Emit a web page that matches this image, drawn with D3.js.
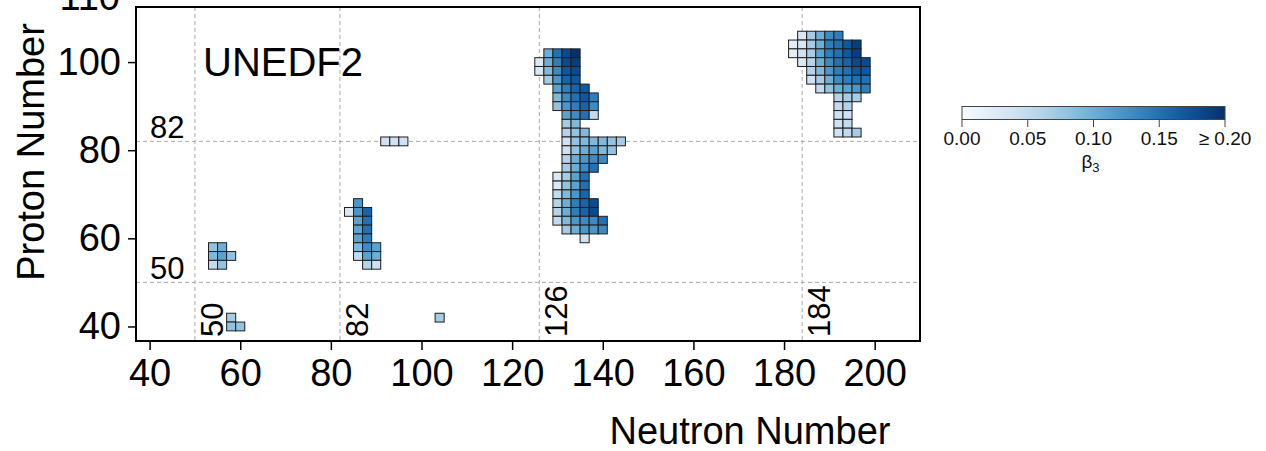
<!DOCTYPE html>
<html>
<head>
<meta charset="utf-8">
<script src="https://cdn.jsdelivr.net/npm/d3@7"></script>
<style>
  body { margin: 0; background: #fff; }
  svg { display: block; font-family: "Liberation Sans", Arial, Helvetica, sans-serif; }
</style>
</head>
<body>
<div id="chart"></div>
<script>
// rows of even-even nuclei: proton number, first neutron number, beta3 values (step of 2 in N)
const rowZ = [58, 56, 54, 42, 40, 42,
  82,
  68, 66, 64, 62, 60, 58, 56, 54,
  102, 100, 98, 96, 94, 92, 90, 88, 86, 84, 82, 80, 78, 76, 74, 72, 70, 68, 66, 64, 62, 60,
  106, 104, 102, 100, 98, 96, 94, 92, 90, 88, 86, 84];
const rowStartN = [54, 54, 54, 58, 58, 104,
  92,
  86, 84, 86, 86, 86, 86, 86, 88,
  128, 126, 126, 128, 130, 130, 130, 132, 132, 132, 132, 132, 132, 132, 130, 130, 130, 130, 130, 130, 132, 136,
  184, 182, 182, 184, 186, 186, 188, 192, 192, 192, 192, 192];
const rowBeta = [
  [0.08, 0.10], [0.09, 0.11, 0.08], [0.05, 0.08], [0.07], [0.08, 0.08], [0.07],
  [0.04, 0.04, 0.04],
  [0.12], [0.03, 0.12, 0.16], [0.11, 0.15], [0.11, 0.15], [0.11, 0.14],
  [0.09, 0.13, 0.11], [0.05, 0.11, 0.10], [0.06, 0.04],
  [0.10, 0.15, 0.18, 0.20],
  [0.03, 0.10, 0.14, 0.18, 0.19],
  [0.03, 0.09, 0.13, 0.17, 0.18],
  [0.07, 0.12, 0.16, 0.17],
  [0.11, 0.14, 0.16, 0.17],
  [0.09, 0.13, 0.15, 0.17, 0.14],
  [0.08, 0.12, 0.14, 0.16, 0.13],
  [0.11, 0.13, 0.15, 0.05],
  [0.07, 0.09],
  [0.06, 0.08, 0.09],
  [0.04, 0.08, 0.09, 0.09, 0.09, 0.08, 0.07],
  [0.04, 0.08, 0.10, 0.11, 0.09, 0.08],
  [0.06, 0.10, 0.12, 0.13, 0.13],
  [0.07, 0.10, 0.13, 0.15],
  [0.03, 0.07, 0.11, 0.15],
  [0.03, 0.08, 0.11, 0.15],
  [0.05, 0.09, 0.12, 0.16],
  [0.06, 0.10, 0.14, 0.16, 0.18],
  [0.06, 0.10, 0.14, 0.16, 0.18],
  [0.05, 0.09, 0.12, 0.13, 0.13, 0.15],
  [0.07, 0.10, 0.12, 0.12, 0.13],
  [0.04],
  [0.03, 0.07, 0.10, 0.13, 0.14],
  [0.02, 0.03, 0.07, 0.10, 0.14, 0.15, 0.17, 0.19],
  [0.02, 0.04, 0.07, 0.11, 0.14, 0.15, 0.17, 0.19],
  [0.03, 0.06, 0.10, 0.13, 0.15, 0.16, 0.18, 0.18],
  [0.06, 0.09, 0.12, 0.14, 0.15, 0.17, 0.17],
  [0.04, 0.07, 0.10, 0.13, 0.14, 0.15, 0.15],
  [0.05, 0.08, 0.10, 0.11, 0.12, 0.14],
  [0.06, 0.07, 0.07],
  [0.05, 0.06],
  [0.04, 0.04],
  [0.04, 0.05],
  [0.04, 0.05, 0.07]
];

const magicN = [50, 82, 126, 184];
const magicZ = [50, 82];
const xTicks = [40, 60, 80, 100, 120, 140, 160, 180, 200];
const yTicks = [40, 60, 80, 100];
const barTicks = [0, 0.05, 0.10, 0.15, 0.20];
const barLabels = ["0.00", "0.05", "0.10", "0.15", "\u2265 0.20"];

const cells = [];
rowZ.forEach((z, i) => {
  rowBeta[i].forEach((b, j) => cells.push({N: rowStartN[i] + 2 * j, Z: z, beta: b}));
});

const svg = d3.select("#chart").append("svg")
  .attr("width", 1266)
  .attr("height", 451);

const x = d3.scaleLinear().domain([37, 210]).range([136, 920]);
const y = d3.scaleLinear().domain([36.7, 112.5]).range([341, 7]);
const color = d3.scaleSequential(d3.interpolateBlues).domain([0, 0.2]).clamp(true);

// stray label cut at the top edge
svg.append("text")
  .attr("x", 120).attr("y", 10)
  .attr("text-anchor", "end")
  .style("font-size", "38px")
  .text("110");

// magic number grid lines
svg.selectAll(".vgrid").data(magicN).enter().append("line")
  .attr("x1", d => x(d)).attr("x2", d => x(d))
  .attr("y1", y.range()[1]).attr("y2", y.range()[0])
  .attr("stroke", "#aaa").attr("stroke-width", 1).attr("stroke-dasharray", "4,3");
svg.selectAll(".hgrid").data(magicZ).enter().append("line")
  .attr("y1", d => y(d)).attr("y2", d => y(d))
  .attr("x1", x.range()[0]).attr("x2", x.range()[1])
  .attr("stroke", "#aaa").attr("stroke-width", 1).attr("stroke-dasharray", "4,3");

// nuclei
svg.selectAll(".cell").data(cells).enter().append("rect")
  .attr("x", d => x(d.N - 1))
  .attr("y", d => y(d.Z + 1))
  .attr("width", d => x(d.N + 1) - x(d.N - 1))
  .attr("height", d => y(d.Z - 1) - y(d.Z + 1))
  .attr("fill", d => color(d.beta))
  .attr("stroke", "#1f1f1f")
  .attr("stroke-width", 1);

// magic labels
svg.selectAll(".zlab").data(magicZ).enter().append("text")
  .attr("x", 150).attr("y", d => y(d) - 3)
  .style("font-size", "31px")
  .text(d => d);
svg.selectAll(".nlab").data(magicN).enter().append("text")
  .attr("transform", d => `translate(${x(d) + 28},337) rotate(-90)`)
  .style("font-size", "31px")
  .text(d => d);

svg.append("text")
  .attr("x", 203).attr("y", 76)
  .style("font-size", "40px")
  .text("UNEDF2");

// axes
const xAxis = svg.append("g")
  .attr("transform", `translate(0,${y.range()[0]})`)
  .call(d3.axisBottom(x).tickValues(xTicks).tickSize(9).tickPadding(9));
const yAxis = svg.append("g")
  .attr("transform", `translate(${x.range()[0]},0)`)
  .call(d3.axisLeft(y).tickValues(yTicks).tickSize(8).tickPadding(7));
[xAxis, yAxis].forEach(g => {
  g.select(".domain").remove();
  g.selectAll("line").attr("stroke", "#000").attr("stroke-width", 1.5);
  g.selectAll("text").attr("fill", "#000").style("font-size", "38px")
    .style("font-family", "'Liberation Sans', Arial, Helvetica, sans-serif");
});

svg.append("rect")
  .attr("x", x.range()[0]).attr("y", y.range()[1])
  .attr("width", x.range()[1] - x.range()[0])
  .attr("height", y.range()[0] - y.range()[1])
  .attr("fill", "none").attr("stroke", "#000").attr("stroke-width", 2);

svg.append("text")
  .attr("x", 750).attr("y", 444)
  .attr("text-anchor", "middle")
  .style("font-size", "38px")
  .text("Neutron Number");
svg.append("text")
  .attr("transform", "translate(44,152) rotate(-90)")
  .attr("text-anchor", "middle")
  .style("font-size", "38px")
  .text("Proton Number");

// colour bar
const bx = d3.scaleLinear().domain([0, 0.2]).range([962, 1225]);
const grad = svg.append("defs").append("linearGradient").attr("id", "beta-grad");
d3.range(0, 1.0001, 0.1).forEach(t => {
  grad.append("stop").attr("offset", t).attr("stop-color", d3.interpolateBlues(t));
});
svg.append("rect")
  .attr("x", bx(0)).attr("y", 106.5)
  .attr("width", bx(0.2) - bx(0)).attr("height", 13)
  .attr("fill", "url(#beta-grad)")
  .attr("stroke", "#444").attr("stroke-width", 1);
svg.selectAll(".btick").data(barTicks).enter().append("line")
  .attr("x1", d => bx(d)).attr("x2", d => bx(d))
  .attr("y1", 119.5).attr("y2", 127)
  .attr("stroke", "#444").attr("stroke-width", 1);
svg.selectAll(".blab").data(barTicks).enter().append("text")
  .attr("x", d => bx(d)).attr("y", 145)
  .attr("text-anchor", "middle")
  .style("font-size", "19px")
  .attr("fill", "#111")
  .text((d, i) => barLabels[i]);
const bt = svg.append("text")
  .attr("x", bx(0.1) - 3).attr("y", 168)
  .attr("text-anchor", "middle")
  .style("font-size", "19px")
  .attr("fill", "#111")
  .text("\u03b2");
bt.append("tspan").attr("dy", 4).style("font-size", "13px").text("3");
</script>
</body>
</html>
